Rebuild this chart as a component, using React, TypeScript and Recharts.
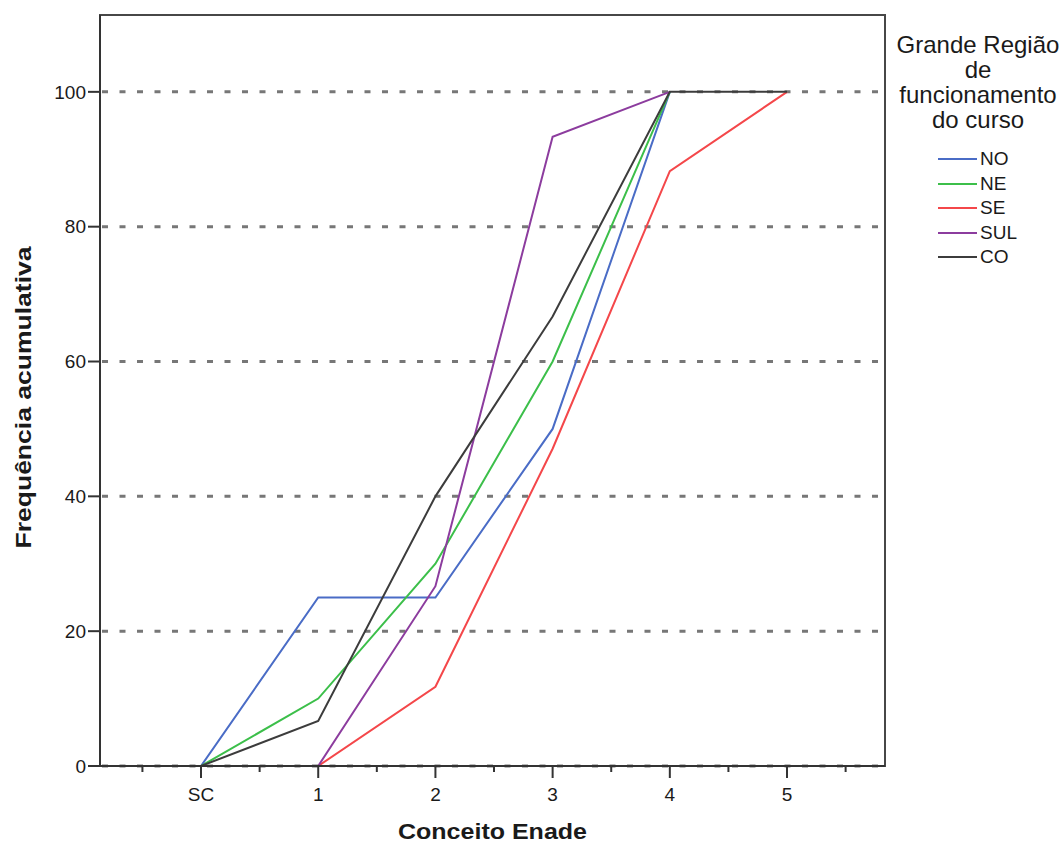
import React from 'react';
import { LineChart, Line, XAxis, YAxis, CartesianGrid, Legend, ReferenceArea, Label } from 'recharts';

const categories = ['SC', '1', '2', '3', '4', '5'];
const NO = [0, 25, 25, 50, 100, null];
const NE = [0, 10, 30, 60, 100, null];
const SE = [0, 0, 11.76, 47.06, 88.24, 100];
const SUL = [0, 0, 26.67, 93.33, 100, null];
const CO = [0, 6.67, 40, 66.67, 100, 100];
const yTicks = [0, 20, 40, 60, 80, 100];
const xTicks = [-0.5, 0, 0.5, 1, 1.5, 2, 2.5, 3, 3.5, 4, 4.5, 5, 5.5];

const seriesNames = ['NO', 'NE', 'SE', 'SUL', 'CO'];
const seriesColors = ['#4a6cc6', '#3cbf4a', '#f4474a', '#8c3c9e', '#3c3c3c'];

const data = categories.map((c, i) => ({
  x: i,
  NO: NO[i],
  NE: NE[i],
  SE: SE[i],
  SUL: SUL[i],
  CO: CO[i],
}));

const FONT = '"Liberation Sans", Arial, Helvetica, sans-serif';
const X_MIN = -0.862;
const X_MAX = 5.836;
const Y_MAX = 111.4;

const XTick = (props: any) => {
  const { x, y, payload } = props;
  const v = payload.value;
  const major = Math.abs(v - Math.round(v)) < 1e-6;
  return (
    <g>
      <line x1={x} x2={x} y1={y} y2={y + (major ? 12 : 6)} stroke="#333" strokeWidth={2} />
      {major && (
        <text x={x} y={y + 35} textAnchor="middle" fontSize={19} fill="#1a1a1a" fontFamily={FONT}>
          {categories[Math.round(v)]}
        </text>
      )}
    </g>
  );
};

const LegendContent = (props: any) => {
  const payload = [...(props.payload || [])].sort(
    (a: any, b: any) => seriesNames.indexOf(a.value) - seriesNames.indexOf(b.value)
  );
  return (
    <div style={{ width: 196, fontFamily: FONT, color: '#1a1a1a' }}>
      <div style={{ textAlign: 'center', fontSize: 24, lineHeight: '25px' }}>
        Grande Região
        <br />
        de
        <br />
        funcionamento
        <br />
        do curso
      </div>
      <div style={{ marginTop: 15 }}>
        {payload.map((p: any) => (
          <div key={p.value} style={{ position: 'relative', height: 24.5, fontSize: 19, lineHeight: '24.5px' }}>
            <div style={{ position: 'absolute', left: 58, top: 11, width: 39, height: 2, background: p.color }} />
            <span style={{ position: 'absolute', left: 100, top: 0 }}>{p.value}</span>
          </div>
        ))}
      </div>
    </div>
  );
};

export default function App() {
  return (
    <div style={{ position: 'absolute', left: 0, top: 0, width: 1064, height: 846, background: '#fff' }}>
      <LineChart width={1064} height={846} data={data} margin={{ top: 15, right: 179, bottom: 0, left: 0 }}>
        <CartesianGrid
          vertical={false}
          horizontalValues={yTicks}
          stroke="#777"
          strokeWidth={3}
          strokeDasharray="6 11.5"
          strokeDashoffset={-2}
        />
        <ReferenceArea
          x1={X_MIN}
          x2={X_MAX}
          y1={0}
          y2={Y_MAX}
          fill="none"
          stroke="#474747"
          strokeWidth={2}
          ifOverflow="visible"
        />
        <XAxis
          dataKey="x"
          type="number"
          domain={[X_MIN, X_MAX]}
          ticks={xTicks}
          interval={0}
          height={80}
          tickSize={0}
          tickMargin={0}
          tickLine={false}
          tick={<XTick />}
          axisLine={{ stroke: '#333', strokeWidth: 2 }}
          allowDataOverflow
        >
          <Label
            content={(p: any) => {
              const vb = p.viewBox;
              return (
                <text
                  x={vb.x + vb.width / 2}
                  y={vb.y + 73}
                  textAnchor="middle"
                  fontSize={22}
                  fontWeight="bold"
                  fill="#1a1a1a"
                  fontFamily={FONT}
                  textLength={189}
                  lengthAdjust="spacingAndGlyphs"
                >
                  Conceito Enade
                </text>
              );
            }}
          />
        </XAxis>
        <YAxis
          type="number"
          domain={[0, Y_MAX]}
          ticks={yTicks}
          width={100}
          tickSize={12}
          tickMargin={2}
          tickLine={{ stroke: '#333', strokeWidth: 2 }}
          axisLine={{ stroke: '#333', strokeWidth: 2 }}
          tick={{ fontSize: 19, fill: '#1a1a1a', fontFamily: FONT }}
          allowDataOverflow
        >
          <Label
            content={(p: any) => {
              const vb = p.viewBox;
              const cx = 31;
              const cy = vb.y + vb.height / 2 + 7;
              return (
                <text
                  x={cx}
                  y={cy}
                  transform={`rotate(-90 ${cx} ${cy})`}
                  textAnchor="middle"
                  fontSize={22}
                  fontWeight="bold"
                  fill="#1a1a1a"
                  fontFamily={FONT}
                  textLength={302}
                  lengthAdjust="spacingAndGlyphs"
                >
                  Frequência acumulativa
                </text>
              );
            }}
          />
        </YAxis>
        <Legend
          layout="vertical"
          align="center"
          verticalAlign="middle"
          content={<LegendContent />}
          wrapperStyle={{ position: 'absolute', left: 880, top: 32, width: 196, height: 260 }}
        />
        {seriesNames.map((name, i) => (
          <Line
            key={name}
            type="linear"
            dataKey={name}
            name={name}
            stroke={seriesColors[i]}
            strokeWidth={2}
            dot={false}
            activeDot={false}
            isAnimationActive={false}
            connectNulls={false}
          />
        ))}
      </LineChart>
    </div>
  );
}
